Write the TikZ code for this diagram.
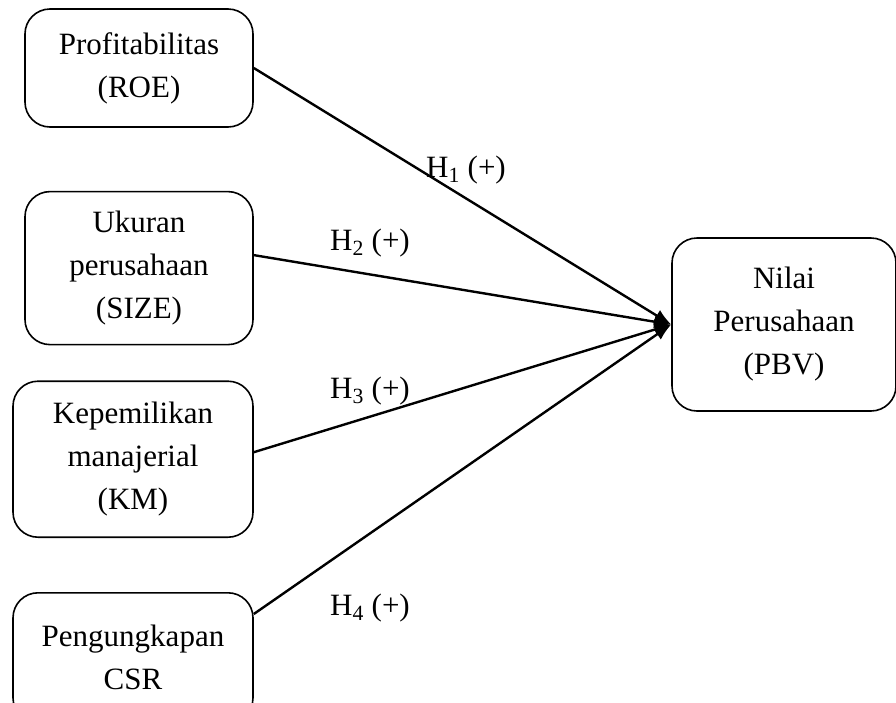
\documentclass[tikz,border=0pt]{standalone}
\usepackage{fontspec}
\setmainfont{Liberation Serif}
\usetikzlibrary{positioning,arrows.meta}

\begin{document}
\begin{tikzpicture}[
    x=1pt, y=-1pt,
    font=\fontsize{31}{43}\selectfont,
    box/.style = {draw, rounded corners=25pt, line width=1.6pt, align=center, inner sep=0pt},
    link/.style = {line width=2.4pt, -{Latex[length=17pt, width=13pt]}},
    hyp/.style = {anchor=base, inner sep=0pt}
]
    \useasboundingbox (0,0) rectangle (896,702);

    % Variabel independen
    \node[box, minimum width=228pt, minimum height=118pt] (roe) at (139,68) {Profitabilitas\\(ROE)};
    \node[box, minimum width=228pt, minimum height=153pt] (size) [below=63pt of roe.south east, anchor=north east] {Ukuran\\perusahaan\\(SIZE)};
    \node[box, minimum width=240pt, minimum height=156pt] (km) [below=35pt of size.south east, anchor=north east] {Kepemilikan\\manajerial\\(KM)};
    \node[box, minimum width=240pt, minimum height=130pt] (csr) [below=54pt of km.south east, anchor=north east] {Pengungkapan\\CSR};

    % Variabel dependen
    \node[box, minimum width=224pt, minimum height=173pt] (pbv) at (784,324.5) {Nilai\\Perusahaan\\(PBV)};

    % Hipotesis
    \draw[link] (roe.east) -- (pbv.west);
    \draw[link] ([yshift=13pt]size.east) -- (pbv.west);
    \draw[link] ([yshift=7pt]km.east) -- (pbv.west);
    \draw[link] ([yshift=-22pt]csr.north east) -- (pbv.west);

    \node[hyp] (h1) at (466,177) {H\textsubscript{1} (+)};
    \node[hyp] (h2) at (370,250) {H\textsubscript{2} (+)};
    \node[hyp] (h3) at (370,398) {H\textsubscript{3} (+)};
    \node[hyp] (h4) at (370,615) {H\textsubscript{4} (+)};

\end{tikzpicture}
\end{document}
